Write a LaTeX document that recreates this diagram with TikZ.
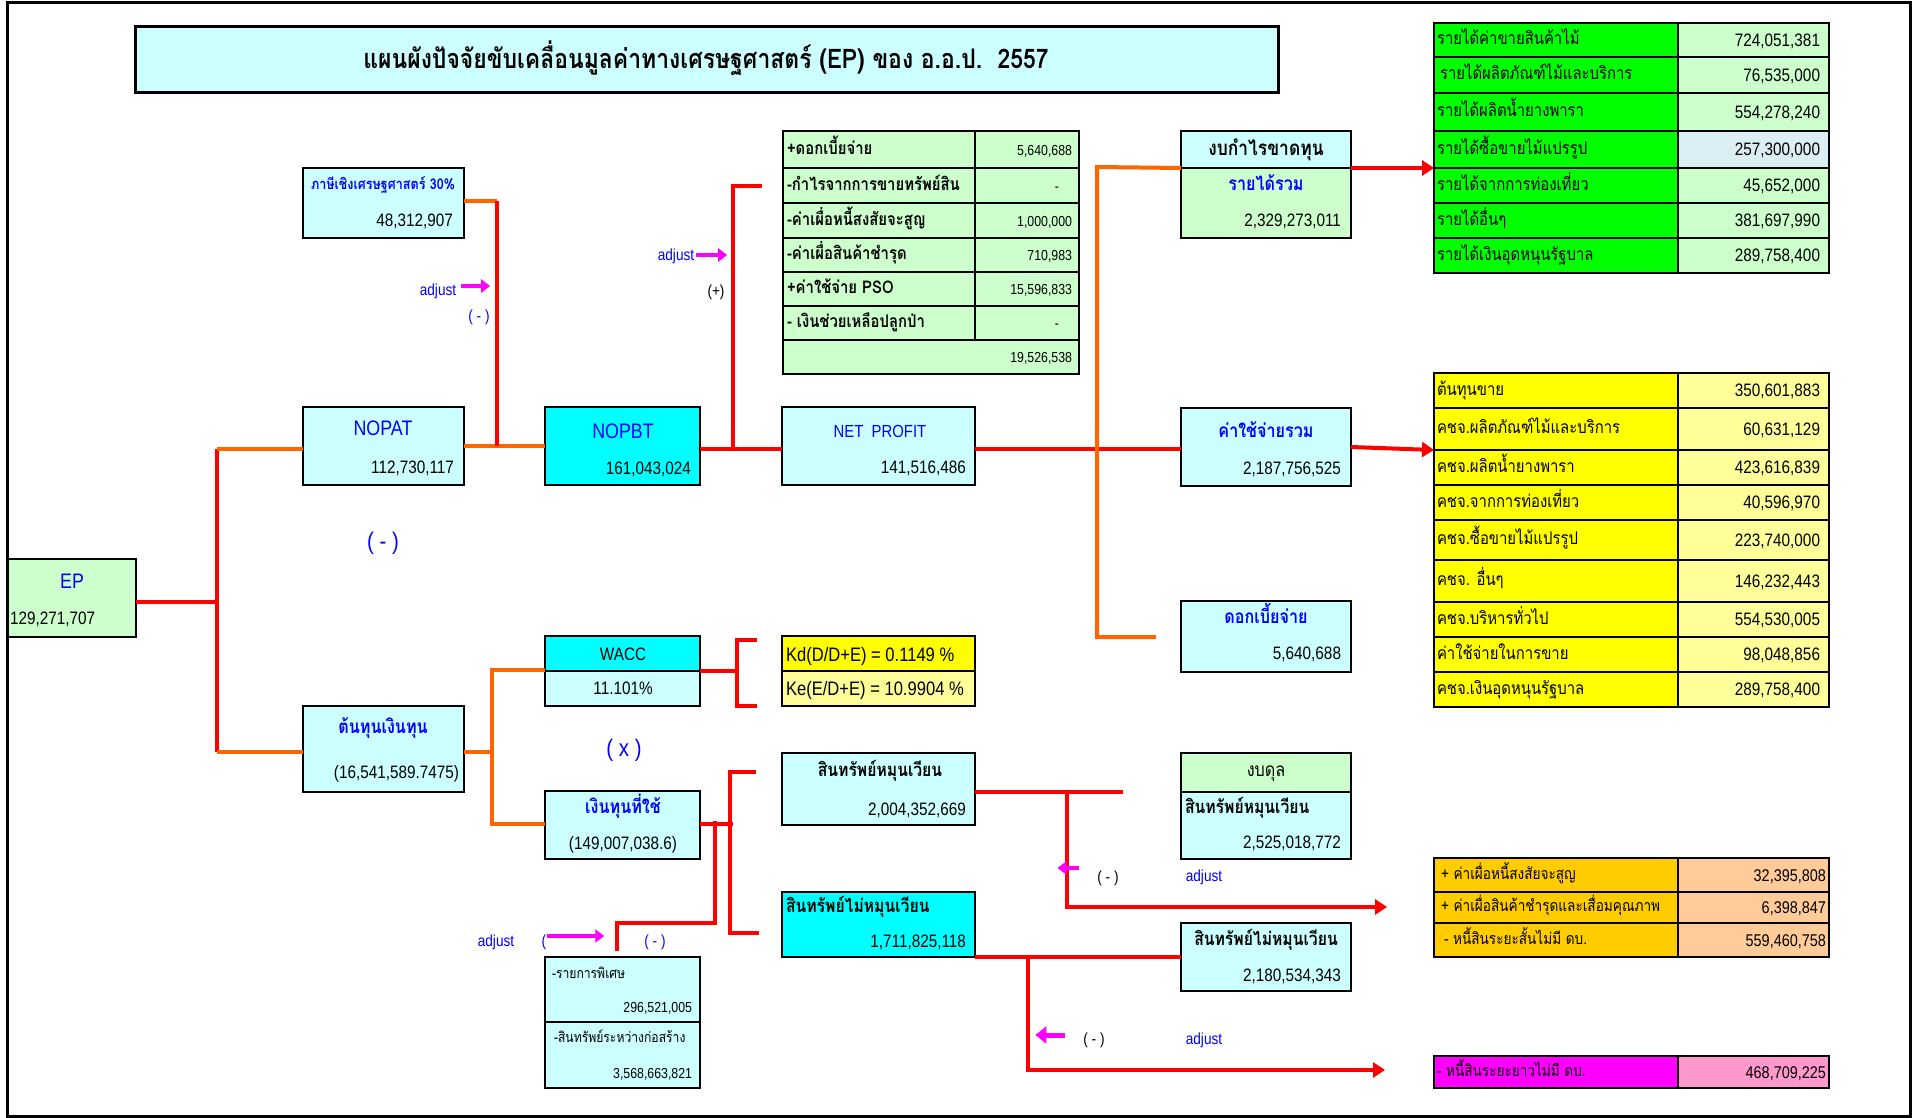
\documentclass[tikz,border=0pt]{standalone}
\usepackage{fontspec}
\setmainfont{Liberation Sans}[FakeStretch=0.85]
\newfontfamily\thai[Script=Thai,FakeStretch=0.85]{Loma}
\usetikzlibrary{arrows.meta}
\definecolor{lcyan}{HTML}{CCFFFF}
\definecolor{cyn}{HTML}{00FFFF}
\definecolor{lgrn}{HTML}{CCFFCC}
\definecolor{grn}{HTML}{00FF00}
\definecolor{yel}{HTML}{FFFF00}
\definecolor{lyel}{HTML}{FFFF99}
\definecolor{gld}{HTML}{FFCC00}
\definecolor{pch}{HTML}{FFCC99}
\definecolor{mag}{HTML}{FF00FF}
\definecolor{pnk}{HTML}{FF99CC}
\definecolor{tblue}{HTML}{0000FF}
\definecolor{lred}{HTML}{FF0000}
\definecolor{lorg}{HTML}{FF6600}
\definecolor{lblu}{HTML}{DAEEF3}
\newcommand\mybox[6]{\node[bx,fill=#6,minimum width={#4-#2},minimum height={#5-#3},anchor=north west] (#1) at (#2,#3) {};}
\tikzset{
  bx/.style={draw=black,line width=2pt,inner sep=0pt,outer sep=0pt},
  tx/.style={inner sep=0pt,outer sep=0pt,text depth=0pt},
  big/.style={tx,text=tblue,font=\fontsize{21}{24}\selectfont,text height=15pt},
  val/.style={tx,font=\fontsize{18}{21}\selectfont,text height=12.9pt},
  sval/.style={tx,font=\fontsize{14.5}{17}\selectfont,text height=10.4pt},
  thb/.style={tx,text=tblue,font={\thai\bfseries\fontsize{19}{22}\selectfont},text height=10pt},
  thk/.style={tx,font={\thai\bfseries\fontsize{18.5}{22}\selectfont},text height=9.8pt},
  thn/.style={tx,font={\thai\fontsize{17.5}{20}\selectfont},text height=9.5pt},
  tho/.style={tx,font={\thai\fontsize{16}{19}\selectfont},text height=8.7pt},
  ths/.style={tx,font={\thai\bfseries\fontsize{17.5}{20}\selectfont},text height=9.3pt},
  thxs/.style={tx,font={\thai\fontsize{14.3}{17}\selectfont},text height=7.7pt},
  adj/.style={tx,text=tblue,font=\fontsize{16}{19}\selectfont,text height=11.4pt},
  pm/.style={tx,font=\fontsize{16}{19}\selectfont,text height=11.4pt},
  pmbig/.style={tx,text=tblue,font=\fontsize{24}{28}\selectfont,text height=17.2pt},
  rl/.style={draw=lred,line width=4pt,line join=miter},
  ol/.style={draw=lorg,line width=4pt,line join=miter},
  rarr/.style={rl,-{Triangle[length=12pt,width=15pt]}},
  marr/.style={draw=mag,line width=4.5pt,-{Triangle[length=9pt,width=13pt]}}
}
\begin{document}
\begin{tikzpicture}[x=1pt,y=-1pt]
\useasboundingbox (0,0) rectangle (1916,1118);
\fill[white] (0,0) rectangle (1916,1118);
\draw[line width=3pt] (7,2.5) rectangle (1910,1116);
% title
\node[bx,line width=3pt,fill=lcyan,minimum width=1143pt,minimum height=66pt,anchor=north west] (title) at (135,27) {};
\node[tx,font={\thai\bfseries\fontsize{27}{31}\selectfont}] (titletext) at (706,55) {แผนผังปัจจัยขับเคลื่อนมูลค่าทางเศรษฐศาสตร์ (EP) ของ อ.อ.ป.\ \ 2557};
% left boxes
\mybox{tax}{303}{168}{464}{238}{lcyan}
\mybox{nopat}{303}{407}{464}{485}{lcyan}
\mybox{nopbt}{545}{407}{700}{485}{cyn}
\mybox{net}{782}{407}{975}{485}{lcyan}
\mybox{ep}{8}{559}{136}{637}{lgrn}
\mybox{waccT}{545}{636}{700}{671}{cyn}
\mybox{waccB}{545}{671}{700}{706}{lcyan}
\mybox{kd}{782}{636}{975}{671}{yel}
\mybox{ke}{782}{671}{975}{706}{lyel}
\mybox{cost}{303}{706}{464}{792}{lcyan}
\mybox{used}{545}{791}{700}{859}{lcyan}
\mybox{sp1}{545}{957}{700}{1022}{lcyan}
\mybox{sp2}{545}{1022}{700}{1088}{lcyan}
\mybox{ca}{782}{753}{975}{825}{lcyan}
\mybox{nca}{782}{892}{975}{957}{cyn}
% adjustments table
\mybox{a1l}{783}{131}{975}{168}{lgrn}\mybox{a1r}{975}{131}{1079}{168}{lgrn}
\mybox{a2l}{783}{168}{975}{203}{lgrn}\mybox{a2r}{975}{168}{1079}{203}{lgrn}
\mybox{a3l}{783}{203}{975}{238}{lgrn}\mybox{a3r}{975}{203}{1079}{238}{lgrn}
\mybox{a4l}{783}{238}{975}{272}{lgrn}\mybox{a4r}{975}{238}{1079}{272}{lgrn}
\mybox{a5l}{783}{272}{975}{306}{lgrn}\mybox{a5r}{975}{272}{1079}{306}{lgrn}
\mybox{a6l}{783}{306}{975}{340}{lgrn}\mybox{a6r}{975}{306}{1079}{340}{lgrn}
\mybox{a7}{783}{340}{1079}{374}{lgrn}
% right middle boxes
\mybox{plT}{1181}{131}{1351}{168}{lcyan}
\mybox{plB}{1181}{168}{1351}{238}{lgrn}
\mybox{exp}{1181}{408}{1351}{486}{lcyan}
\mybox{int}{1181}{601}{1351}{672}{lcyan}
\mybox{bsT}{1181}{753}{1351}{792}{lgrn}
\mybox{bsB}{1181}{792}{1351}{859}{lcyan}
\mybox{nca2}{1181}{923}{1351}{991}{lcyan}
% green table
\mybox{g1l}{1434}{23}{1678}{57}{grn}\mybox{g1r}{1678}{23}{1829}{57}{lgrn}
\mybox{g2l}{1434}{57}{1678}{93}{grn}\mybox{g2r}{1678}{57}{1829}{93}{lgrn}
\mybox{g3l}{1434}{93}{1678}{131}{grn}\mybox{g3r}{1678}{93}{1829}{131}{lgrn}
\mybox{g4l}{1434}{131}{1678}{168}{grn}\mybox{g4r}{1678}{131}{1829}{168}{lblu}
\mybox{g5l}{1434}{168}{1678}{203}{grn}\mybox{g5r}{1678}{168}{1829}{203}{lgrn}
\mybox{g6l}{1434}{203}{1678}{238}{grn}\mybox{g6r}{1678}{203}{1829}{238}{lgrn}
\mybox{g7l}{1434}{238}{1678}{273}{grn}\mybox{g7r}{1678}{238}{1829}{273}{lgrn}
% yellow table
\mybox{y1l}{1434}{373}{1678}{408}{yel}\mybox{y1r}{1678}{373}{1829}{408}{lyel}
\mybox{y2l}{1434}{408}{1678}{450}{yel}\mybox{y2r}{1678}{408}{1829}{450}{lyel}
\mybox{y3l}{1434}{450}{1678}{485}{yel}\mybox{y3r}{1678}{450}{1829}{485}{lyel}
\mybox{y4l}{1434}{485}{1678}{520}{yel}\mybox{y4r}{1678}{485}{1829}{520}{lyel}
\mybox{y5l}{1434}{520}{1678}{560}{yel}\mybox{y5r}{1678}{520}{1829}{560}{lyel}
\mybox{y6l}{1434}{560}{1678}{602}{yel}\mybox{y6r}{1678}{560}{1829}{602}{lyel}
\mybox{y7l}{1434}{602}{1678}{637}{yel}\mybox{y7r}{1678}{602}{1829}{637}{lyel}
\mybox{y8l}{1434}{637}{1678}{672}{yel}\mybox{y8r}{1678}{637}{1829}{672}{lyel}
\mybox{y9l}{1434}{672}{1678}{707}{yel}\mybox{y9r}{1678}{672}{1829}{707}{lyel}
% orange table
\mybox{o1l}{1434}{858}{1678}{892}{gld}\mybox{o1r}{1678}{858}{1829}{892}{pch}
\mybox{o2l}{1434}{892}{1678}{923}{gld}\mybox{o2r}{1678}{892}{1829}{923}{pch}
\mybox{o3l}{1434}{923}{1678}{957}{gld}\mybox{o3r}{1678}{923}{1829}{957}{pch}
% magenta table
\mybox{m1l}{1434}{1056}{1678}{1088}{mag}\mybox{m1r}{1678}{1056}{1829}{1088}{pnk}

% ---- texts: left boxes
\node[thb,font={\thai\bfseries\fontsize{14.8}{17}\selectfont},text height=7.9pt] (taxL) at (383,186) {ภาษีเชิงเศรษฐศาสตร์ 30\%};
\node[val,anchor=east] (taxV) at (453,220) {48,312,907};
\node[big] (nopatL) at (383,428) {NOPAT};
\node[val,anchor=east] (nopatV) at (454,467) {112,730,117};
\node[big] (nopbtL) at (623,431) {NOPBT};
\node[val,anchor=east] (nopbtV) at (691,468) {161,043,024};
\node[big,font=\fontsize{17.5}{20}\selectfont,text height=12.5pt] (netL) at (880,431) {NET\ \ PROFIT};
\node[val,anchor=east] (netV) at (966,467) {141,516,486};
\node[big] (epL) at (72,581) {EP};
\node[val,anchor=west] (epV) at (10,618) {129,271,707};
\node[val] (waccL) at (623,654) {WACC};
\node[val] (waccV) at (623,688) {11.101\%};
\node[val,font=\fontsize{19.5}{22}\selectfont,text height=14pt,anchor=west] (kdL) at (786,654) {Kd(D/D+E) = 0.1149 \%};
\node[val,font=\fontsize{19.5}{22}\selectfont,text height=14pt,anchor=west] (keL) at (786,688) {Ke(E/D+E) = 10.9904 \%};
\node[thb] (costL) at (383,728) {ต้นทุนเงินทุน};
\node[val,anchor=east] (costV) at (459,772) {(16,541,589.7475)};
\node[thb] (usedL) at (623,808) {เงินทุนที่ใช้};
\node[val] (usedV) at (623,843) {(149,007,038.6)};
\node[thxs,anchor=west] (sp1L) at (552,975) {-รายการพิเศษ};
\node[sval,anchor=east] (sp1V) at (692,1007) {296,521,005};
\node[thxs,anchor=west] (sp2L) at (554,1039) {-สินทรัพย์ระหว่างก่อสร้าง};
\node[sval,anchor=east] (sp2V) at (692,1073) {3,568,663,821};
\node[thk] (caL) at (880,772) {สินทรัพย์หมุนเวียน};
\node[val,anchor=east] (caV) at (966,809) {2,004,352,669};
\node[thk,anchor=west] (ncaL) at (786,908) {สินทรัพย์ไม่หมุนเวียน};
\node[val,anchor=east] (ncaV) at (966,941) {1,711,825,118};
% adjustments table texts
\node[ths,anchor=west] (a1t) at (787,150) {+ดอกเบี้ยจ่าย};
\node[ths,anchor=west] (a2t) at (787,186) {-กำไรจากการขายทรัพย์สิน};
\node[ths,anchor=west] (a3t) at (787,221) {-ค่าเผื่อหนี้สงสัยจะสูญ};
\node[ths,anchor=west] (a4t) at (787,255) {-ค่าเผื่อสินค้าชำรุด};
\node[ths,anchor=west] (a5t) at (787,289) {+ค่าใช้จ่าย PSO};
\node[ths,anchor=west] (a6t) at (787,323) {- เงินช่วยเหลือปลูกป่า};
\node[sval,anchor=east] (a1v) at (1072,150) {5,640,688};
\node[sval,anchor=east] (a2v) at (1059,186) {-};
\node[sval,anchor=east] (a3v) at (1072,221) {1,000,000};
\node[sval,anchor=east] (a4v) at (1072,255) {710,983};
\node[sval,anchor=east] (a5v) at (1072,289) {15,596,833};
\node[sval,anchor=east] (a6v) at (1059,323) {-};
\node[sval,anchor=east] (a7v) at (1072,357) {19,526,538};
% right middle texts
\node[thk,font={\thai\bfseries\fontsize{20.5}{24}\selectfont},text height=10.9pt] (plL) at (1266,150) {งบกำไรขาดทุน};
\node[thb] (revL) at (1266,186) {รายได้รวม};
\node[val,anchor=east] (revV) at (1341,220) {2,329,273,011};
\node[thb] (expL) at (1266,432) {ค่าใช้จ่ายรวม};
\node[val,anchor=east] (expV) at (1341,468) {2,187,756,525};
\node[thb] (intL) at (1266,618) {ดอกเบี้ยจ่าย};
\node[val,anchor=east] (intV) at (1341,653) {5,640,688};
\node[thn,font={\thai\fontsize{19}{22}\selectfont}] (bsL) at (1266,772) {งบดุล};
\node[thk,anchor=west] (bsCL) at (1185,809) {สินทรัพย์หมุนเวียน};
\node[val,anchor=east] (bsCV) at (1341,842) {2,525,018,772};
\node[thk] (nca2L) at (1266,941) {สินทรัพย์ไม่หมุนเวียน};
\node[val,anchor=east] (nca2V) at (1341,975) {2,180,534,343};
% green table texts
\node[thn,anchor=west] (g1t) at (1437,40) {รายได้ค่าขายสินค้าไม้};
\node[thn,anchor=west] (g2t) at (1440,75) {รายได้ผลิตภัณฑ์ไม้และบริการ};
\node[thn,anchor=west] (g3t) at (1437,112) {รายได้ผลิตน้ำยางพารา};
\node[thn,anchor=west] (g4t) at (1437,149.5) {รายได้ซื้อขายไม้แปรรูป};
\node[thn,anchor=west] (g5t) at (1437,185.5) {รายได้จากการท่องเที่ยว};
\node[thn,anchor=west] (g6t) at (1437,220.5) {รายได้อื่นๆ};
\node[thn,anchor=west] (g7t) at (1437,255.5) {รายได้เงินอุดหนุนรัฐบาล};
\node[val,anchor=east] (g1v) at (1820,40) {724,051,381};
\node[val,anchor=east] (g2v) at (1820,75) {76,535,000};
\node[val,anchor=east] (g3v) at (1820,112) {554,278,240};
\node[val,anchor=east] (g4v) at (1820,149.5) {257,300,000};
\node[val,anchor=east] (g5v) at (1820,185.5) {45,652,000};
\node[val,anchor=east] (g6v) at (1820,220.5) {381,697,990};
\node[val,anchor=east] (g7v) at (1820,255.5) {289,758,400};
% yellow table texts
\node[thn,anchor=west] (y1t) at (1437,390.5) {ต้นทุนขาย};
\node[thn,anchor=west] (y2t) at (1437,429) {คชจ.ผลิตภัณฑ์ไม้และบริการ};
\node[thn,anchor=west] (y3t) at (1437,467.5) {คชจ.ผลิตน้ำยางพารา};
\node[thn,anchor=west] (y4t) at (1437,502.5) {คชจ.จากการท่องเที่ยว};
\node[thn,anchor=west] (y5t) at (1437,540) {คชจ.ซื้อขายไม้แปรรูป};
\node[thn,anchor=west] (y6t) at (1437,581) {คชจ. อื่นๆ};
\node[thn,anchor=west] (y7t) at (1437,619.5) {คชจ.บริหารทั่วไป};
\node[thn,anchor=west] (y8t) at (1437,654.5) {ค่าใช้จ่ายในการขาย};
\node[thn,anchor=west] (y9t) at (1437,689.5) {คชจ.เงินอุดหนุนรัฐบาล};
\node[val,anchor=east] (y1v) at (1820,390.5) {350,601,883};
\node[val,anchor=east] (y2v) at (1820,429) {60,631,129};
\node[val,anchor=east] (y3v) at (1820,467.5) {423,616,839};
\node[val,anchor=east] (y4v) at (1820,502.5) {40,596,970};
\node[val,anchor=east] (y5v) at (1820,540) {223,740,000};
\node[val,anchor=east] (y6v) at (1820,581) {146,232,443};
\node[val,anchor=east] (y7v) at (1820,619.5) {554,530,005};
\node[val,anchor=east] (y8v) at (1820,654.5) {98,048,856};
\node[val,anchor=east] (y9v) at (1820,689.5) {289,758,400};
% orange / magenta texts
\node[tho,anchor=west] (o1t) at (1441,875) {+ ค่าเผื่อหนี้สงสัยจะสูญ};
\node[tho,anchor=west] (o2t) at (1441,907.5) {+ ค่าเผื่อสินค้าชำรุดและเสื่อมคุณภาพ};
\node[tho,anchor=west] (o3t) at (1444,940) {- หนี้สินระยะสั้นไม่มี ดบ.};
\node[val,font=\fontsize{17}{20}\selectfont,anchor=east] (o1v) at (1826,875) {32,395,808};
\node[val,font=\fontsize{17}{20}\selectfont,anchor=east] (o2v) at (1826,907.5) {6,398,847};
\node[val,font=\fontsize{17}{20}\selectfont,anchor=east] (o3v) at (1826,940) {559,460,758};
\node[tho,anchor=west] (m1t) at (1437,1072) {- หนี้สินระยะยาวไม่มี ดบ.};
\node[val,font=\fontsize{17}{20}\selectfont,anchor=east] (m1v) at (1826,1072) {468,709,225};

% ---- annotations
\node[adj] (adjA) at (438,290) {adjust};
\node[adj] (pmA) at (479,316) {( - )};
\node[adj] (adjB) at (676,255) {adjust};
\node[pm] (pmB) at (716,291) {(+)};
\node[pmbig] (pmC) at (383,541) {( - )};
\node[pmbig] (pmD) at (624,748) {( x )};
\node[adj] (adjC) at (496,941) {adjust};
\node[adj] (parC) at (544,941) {(};
\node[adj] (pmE) at (655,941) {( - )};
\node[pm] (pmF) at (1108,877) {( - )};
\node[adj] (adjF) at (1204,876) {adjust};
\node[pm] (pmG) at (1094,1039) {( - )};
\node[adj] (adjG) at (1204,1039) {adjust};

% ---- junction coordinates
\coordinate (j1) at (217,602);
\coordinate (j2) at (217,449);
\coordinate (j3) at (217,752);
\coordinate (j4) at (497,446);
\coordinate (j5) at (497,201);
\coordinate (j6) at (733,449);
\coordinate (j7) at (733,186);
\coordinate (j7e) at (762,186);
\coordinate (j8) at (1097,449);
\coordinate (j9) at (1097,167);
\coordinate (j10) at (1097,637);
\coordinate (j10e) at (1156,637);
\coordinate (k1) at (737,671);
\coordinate (k2) at (757,640);
\coordinate (k3) at (737,640);
\coordinate (k4) at (737,706);
\coordinate (k5) at (757,706);
\coordinate (c1) at (492,752);
\coordinate (c2) at (492,670);
\coordinate (c3) at (492,824);
\coordinate (u1) at (733,824);
\coordinate (u2) at (756,772);
\coordinate (u3) at (730,772);
\coordinate (u4) at (730,933);
\coordinate (u5) at (759,933);
\coordinate (s1) at (715,821);
\coordinate (s2) at (715,923);
\coordinate (s3) at (617,923);
\coordinate (s4) at (617,951);
\coordinate (r1) at (1123,792);
\coordinate (r2) at (1067,792);
\coordinate (r3) at (1067,907);
\coordinate (r4) at (1387,907);
\coordinate (q1) at (1028,957);
\coordinate (q2) at (1028,1070);
\coordinate (q3) at (1385,1070);

% ---- connectors
\draw[rl] (ep.east|-j1) -- (j1);
\draw[rl] (j2) -- (j3);
\draw[ol] (j2) -- (nopat.west|-j2);
\draw[ol] (j3) -- (cost.west|-j3);
\draw[ol] (nopat.east|-j4) -- (nopbt.west|-j4);
\draw[ol] (tax.east|-j5) -- (j5);
\draw[rl] (j5) -- (j4);
\draw[rl] (nopbt.east|-j6) -- (net.west|-j6);
\draw[rl] (j6) -- (j7) -- (j7e);
\draw[rl] (net.east|-j8) -- (exp.west|-j8);
\draw[ol] (plT.south west) -- (j9) -- (j10) -- (j10e);
\draw[rarr] (plT.south east) -- (g5l.north west);
\draw[rarr] (exp.east) -- (y3l.north west);
\draw[rl] (waccT.south east) -- (k1);
\draw[rl] (k2) -- (k3) -- (k4) -- (k5);
\draw[ol] (cost.east|-c1) -- (c1);
\draw[ol] (waccT.west|-c2) -- (c2) -- (c3) -- (used.west|-c3);
\draw[rl] (used.east|-u1) -- (u1);
\draw[rl] (u2) -- (u3) -- (u4) -- (u5);
\draw[rl] (s1) -- (s2) -- (s3) -- (s4);
\draw[rl] (ca.east|-r1) -- (r1);
\draw[rarr] (r2) -- (r3) -- (r4);
\draw[rl] (nca.south east) -- (nca2.west|-q1);
\draw[rarr] (q1) -- (q2) -- (q3);
% magenta arrows
\draw[marr] (adjA.east) ++(5,-4) coordinate (ma1) -- ++(29,0);
\draw[marr] (adjB.east) ++(2,0) coordinate (mb1) -- ++(31,0);
\draw[marr] (parC.east) ++(1,-5) coordinate (mc1) -- ++(57,0);
\draw[marr] (pmF.west) ++(-18,-9) coordinate (mf1) -- ++(-22,0);
\draw[marr,line width=5pt,-{Triangle[length=11pt,width=17pt]}] (pmG.west) ++(-18,-4) coordinate (mg1) -- ++(-30,0);
\end{tikzpicture}
\end{document}
